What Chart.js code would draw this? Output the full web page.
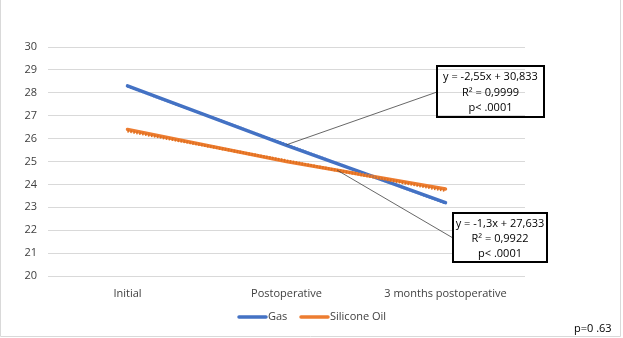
<!DOCTYPE html>
<html>
<head>
<meta charset="utf-8">
<script src="https://cdn.jsdelivr.net/npm/chart.js@4"></script>
<style>
html,body{margin:0;padding:0;background:#fff;}
#wrap{width:623px;height:338px;position:relative;}
</style>
</head>
<body>
<div id="wrap"><canvas id="c" width="623" height="338"></canvas></div>
<script>
const categories = ["Initial", "Postoperative", "3 months postoperative"];
const gasValues = [28.3, 25.7, 23.2];
const oilValues = [26.4, 25.0, 23.8];
const gasTrend = [28.28, 25.73, 23.18];
const oilTrend = [26.33, 25.03, 23.73];
const seriesNames = ["Gas", "Silicone Oil"];
const gasBoxText = ["y = -2,55x + 30,833", "R\u00b2 = 0,9999", "p< .0001"];
const oilBoxText = ["y = -1,3x + 27,633", "R\u00b2 = 0,9922", "p< .0001"];
const footNote = "p=0 .63";
const yMin = 20, yMax = 30;

const FONT = "'Open Sans', 'Noto Sans', sans-serif";
const GAS = "#4472C4", OIL = "#ED7D31";

const overlay = {
  id: "overlay",
  afterDraw(chart) {
    const ctx = chart.ctx;
    const xs = chart.scales.x, ys = chart.scales.y;
    ctx.save();
    // outer frame
    ctx.strokeStyle = "#d9d9d9";
    ctx.lineWidth = 1;
    ctx.beginPath();
    ctx.moveTo(0.5, 0); ctx.lineTo(0.5, 336.5); ctx.lineTo(620.5, 336.5); ctx.lineTo(620.5, 0);
    ctx.stroke();

    // connectors
    ctx.strokeStyle = "#404040";
    ctx.lineWidth = 0.8;
    ctx.beginPath();
    ctx.moveTo(437, 92);
    ctx.lineTo(xs.getPixelForValue(1), ys.getPixelForValue(gasTrend[1]));
    ctx.stroke();
    const f = 0.32;
    const ox = xs.getPixelForValue(1) + f * (xs.getPixelForValue(2) - xs.getPixelForValue(1));
    const oy = ys.getPixelForValue(oilTrend[1] + f * (oilTrend[2] - oilTrend[1]));
    ctx.beginPath();
    ctx.moveTo(453, 238);
    ctx.lineTo(ox, oy);
    ctx.stroke();

    // boxes
    function box(x0, y0, x1, y1, lines, fill) {
      if (fill) { ctx.fillStyle = "#fff"; ctx.fillRect(x0, y0, x1 - x0, y1 - y0); }
      ctx.strokeStyle = "#000";
      ctx.lineWidth = 2;
      ctx.strokeRect(x0, y0, x1 - x0, y1 - y0);
      ctx.fillStyle = "#000";
      ctx.font = "11px " + FONT;
      ctx.textAlign = "center";
      ctx.textBaseline = "middle";
      const cx = (x0 + x1) / 2;
      const step = (y1 - y0) / 3.3;
      lines.forEach((t, i) => ctx.fillText(t, cx, y0 + step * (0.6 + i) + 2));
    }
    box(437, 66, 544, 117, gasBoxText, false);
    box(453, 213, 547, 262, oilBoxText, true);

    // legend
    ctx.font = "11px " + FONT;
    ctx.textAlign = "left";
    ctx.textBaseline = "middle";
    const ly = 317;
    [[238, GAS, seriesNames[0]], [300, OIL, seriesNames[1]]].forEach(([x, c, t]) => {
      ctx.strokeStyle = c; ctx.lineWidth = 3.5; ctx.lineCap = "round";
      ctx.beginPath(); ctx.moveTo(x + 1, ly); ctx.lineTo(x + 28, ly); ctx.stroke();
      ctx.fillStyle = "#404040";
      ctx.fillText(t, x + 30, ly);
    });

    // footnote
    ctx.fillStyle = "#000";
    ctx.fillText(footNote, 574, 329);
    ctx.restore();
  }
};

new Chart(document.getElementById("c"), {
  type: "line",
  data: {
    labels: categories,
    datasets: [
      { label: seriesNames[0], data: gasValues, borderColor: GAS, borderWidth: 3.5, pointRadius: 0, tension: 0, order: 4, borderCapStyle: "round" },
      { label: seriesNames[1], data: oilValues, borderColor: OIL, borderWidth: 3.5, pointRadius: 0, tension: 0, order: 3, borderCapStyle: "round" },
      { label: "Gas trend", data: gasTrend, borderColor: GAS, borderWidth: 2.5, borderDash: [1.5, 1.5], pointRadius: 0, tension: 0, order: 2 },
      { label: "Oil trend", data: oilTrend, borderColor: "#E07020", borderWidth: 3, borderDash: [1.5, 1.5], pointRadius: 0, tension: 0, order: 1 }
    ]
  },
  options: {
    responsive: false,
    animation: false,
    layout: { padding: { left: 0, right: 98, top: 47, bottom: 0 } },
    plugins: { legend: { display: false }, tooltip: { enabled: false } },
    scales: {
      x: {
        offset: true,
        grid: { display: false, drawTicks: false },
        border: { display: false },
        ticks: { color: "#404040", font: { family: FONT, size: 11 }, padding: 11, maxRotation: 0 },
        afterFit(s) { s.height = 62; }
      },
      y: {
        min: yMin, max: yMax,
        grid: { color: "#d9d9d9", lineWidth: 1, drawTicks: false },
        border: { display: false },
        ticks: { stepSize: 1, color: "#404040", font: { family: FONT, size: 11 }, padding: 11 },
        afterFit(s) { s.width = 48; }
      }
    }
  },
  plugins: [overlay]
});
</script>
</body>
</html>
